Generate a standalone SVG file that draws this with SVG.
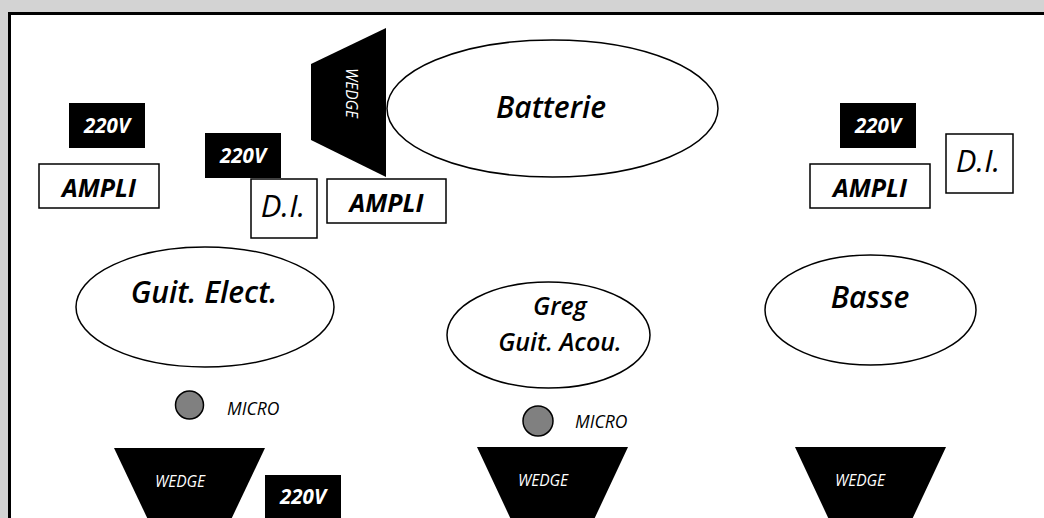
<svg xmlns="http://www.w3.org/2000/svg" width="1044" height="518" viewBox="0 0 1044 518">
<style>
.box{fill:#fff;stroke:#000;stroke-width:1.5}
.blk{fill:#000}
.ell{fill:#fff;stroke:#000;stroke-width:1.5}
.mic{fill:#808080;stroke:#000;stroke-width:1.5}
text{font-family:"Open Sans","Noto Sans","Liberation Sans",sans-serif;font-style:italic;text-anchor:middle}
.v{fill:#fff;font-weight:700;font-size:20.5px}
.amp{fill:#000;font-weight:700;font-size:25px}
.di{fill:#000;font-weight:400;font-size:31px}
.big{fill:#000;font-weight:600;font-size:30px}
.mid{fill:#000;font-weight:600;font-size:25px}
.w{fill:#fff;font-weight:400;font-size:15.5px}
.m{fill:#000;font-weight:400;font-size:17.5px;text-anchor:start}
</style>
<rect x="0" y="0" width="1044" height="518" fill="#d3d3d3"/>
<rect x="9.5" y="13.5" width="1100" height="600" fill="#fff" stroke="#000" stroke-width="3"/>
<g id="connectors"/>
<g id="v220-left"><rect class="blk" x="69" y="103" width="76" height="45"/><text class="v" x="107" y="133">220V</text></g>
<g id="ampli-left"><rect class="box" x="39" y="164" width="120" height="44"/><text class="amp" x="99" y="197">AMPLI</text></g>
<g id="v220-mid"><rect class="blk" x="205" y="133" width="76" height="45"/><text class="v" x="243" y="163">220V</text></g>
<g id="di-left"><rect class="box" x="251" y="179" width="66" height="59"/><text class="di" x="283" y="217">D.I.</text></g>
<g id="wedge-top"><polygon class="blk" points="311,64 386,28 386,177 311,140"/><text class="w" transform="translate(346,93) rotate(90)">WEDGE</text></g>
<g id="ampli-mid"><rect class="box" x="327" y="179" width="119" height="44"/><text class="amp" x="386.5" y="212">AMPLI</text></g>
<g id="batterie"><ellipse class="ell" cx="552.5" cy="108.5" rx="165.5" ry="68.5"/><text class="big" x="551" y="118">Batterie</text></g>
<g id="v220-right"><rect class="blk" x="840" y="103" width="76" height="45"/><text class="v" x="878" y="133">220V</text></g>
<g id="ampli-right"><rect class="box" x="810" y="164" width="120" height="44"/><text class="amp" x="870" y="197">AMPLI</text></g>
<g id="di-right"><rect class="box" x="946" y="134" width="67" height="59"/><text class="di" x="978" y="172">D.I.</text></g>
<g id="guit-elect"><ellipse class="ell" cx="205" cy="307" rx="129" ry="60"/><text class="big" x="204" y="303">Guit. Elect.</text></g>
<g id="greg"><ellipse class="ell" cx="548.5" cy="335" rx="101.5" ry="53"/><text class="mid" x="560" y="315">Greg</text><text class="mid" x="560" y="351">Guit. Acou.</text></g>
<g id="basse"><ellipse class="ell" cx="870.5" cy="310" rx="105.5" ry="55"/><text class="big" x="870" y="308">Basse</text></g>
<g id="micro-left"><circle class="mic" cx="189.5" cy="405" r="14"/><text class="m" x="227" y="415">MICRO</text></g>
<g id="micro-mid"><circle class="mic" cx="538" cy="421" r="15"/><text class="m" x="575" y="428">MICRO</text></g>
<g id="wedge-left"><polygon class="blk" points="114,448 265,448 228,526 151,526"/><text class="w" x="180" y="487">WEDGE</text></g>
<g id="v220-bottom"><rect class="blk" x="265" y="475" width="76" height="50"/><text class="v" x="303" y="504">220V</text></g>
<g id="wedge-mid"><polygon class="blk" points="477,447 628,447 591,526 514,526"/><text class="w" x="543" y="486">WEDGE</text></g>
<g id="wedge-right"><polygon class="blk" points="795,447 946,447 909,526 832,526"/><text class="w" x="860" y="486">WEDGE</text></g>
</svg>
